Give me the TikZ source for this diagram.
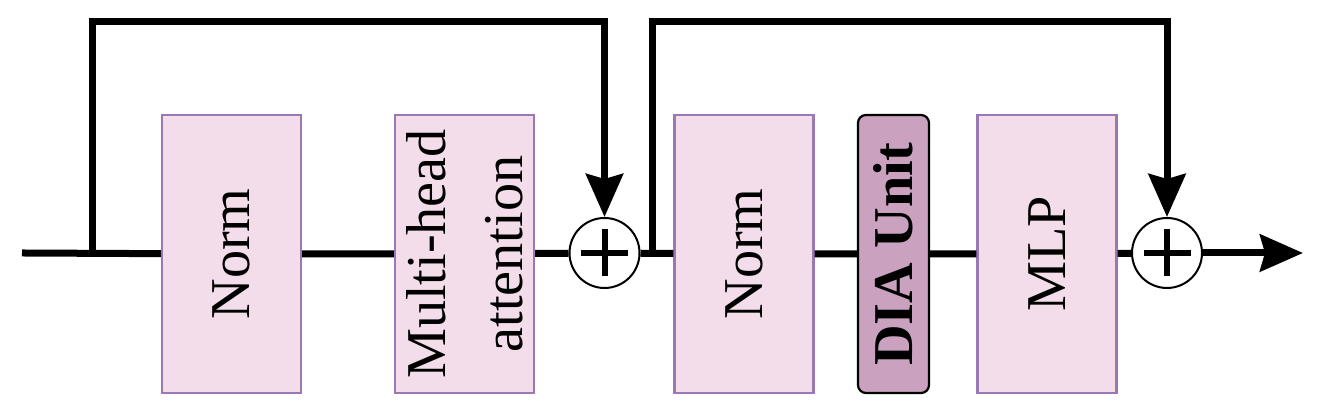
\documentclass[tikz,border=0pt]{standalone}
\usepackage{fontspec}
\setmainfont{Liberation Serif}
\usetikzlibrary{arrows.meta,calc}

\definecolor{boxfill}{HTML}{F3DDEA}
\definecolor{boxline}{HTML}{9A78B4}
\definecolor{diafill}{HTML}{CBA1C0}

\begin{document}
\begin{tikzpicture}[
  blk/.style={draw=boxline,fill=boxfill,line width=0.022cm,rotate=90,align=center,
    minimum width=2.78cm,minimum height=1.39cm,inner sep=0pt,font=\fontsize{16}{22}\selectfont},
  dia/.style={blk,draw=black,fill=diafill,rounded corners=0.08cm,minimum height=0.71cm,
    font=\fontsize{16}{22}\selectfont\bfseries},
  sum/.style={draw,circle,fill=white,line width=0.02cm,minimum size=0.70cm,inner sep=0pt,
    path picture={\draw[line width=0.06cm] ($(path picture bounding box.center)+(-0.235,0)$) -- +(0.47,0)
      ($(path picture bounding box.center)+(0,-0.235)$) -- +(0,0.47);}},
  line/.style={line width=0.07cm},
  arr/.style={line,-{Stealth[length=0.43cm,width=0.37cm,inset=0.05cm]}}]
\useasboundingbox (0,0) rectangle (13.28,4.05);
\coordinate (in) at (0.22,1.52);
\coordinate (out) at (13.03,1.52);
\coordinate (br1) at (0.92,1.52);
\coordinate (br2) at (6.52,1.52);
\node[blk] (norm1) at (2.315,1.51) {Norm};
\node[blk] (mha) at (4.645,1.51) {Multi-head\\attention};
\node[sum] (plus1) at (6.045,1.52) {};
\node[blk] (norm2) at (7.44,1.51) {Norm};
\node[dia] (dia) at (8.935,1.51) {DIA Unit};
\node[blk] (mlp) at (10.47,1.51) {MLP};
\node[sum] (plus2) at (11.67,1.52) {};
% main path
\draw[line] (in) -- (norm1) -- (mha) -- (plus1) -- (norm2) -- (dia) -- (mlp) -- (plus2);
\draw[arr] (plus2) -- (out);
% residual connections
\draw[arr] (br1) -- ++(0,2.31) -| (plus1.north);
\draw[arr] (br2) -- ++(0,2.31) -| (plus2.north);
\end{tikzpicture}
\end{document}
